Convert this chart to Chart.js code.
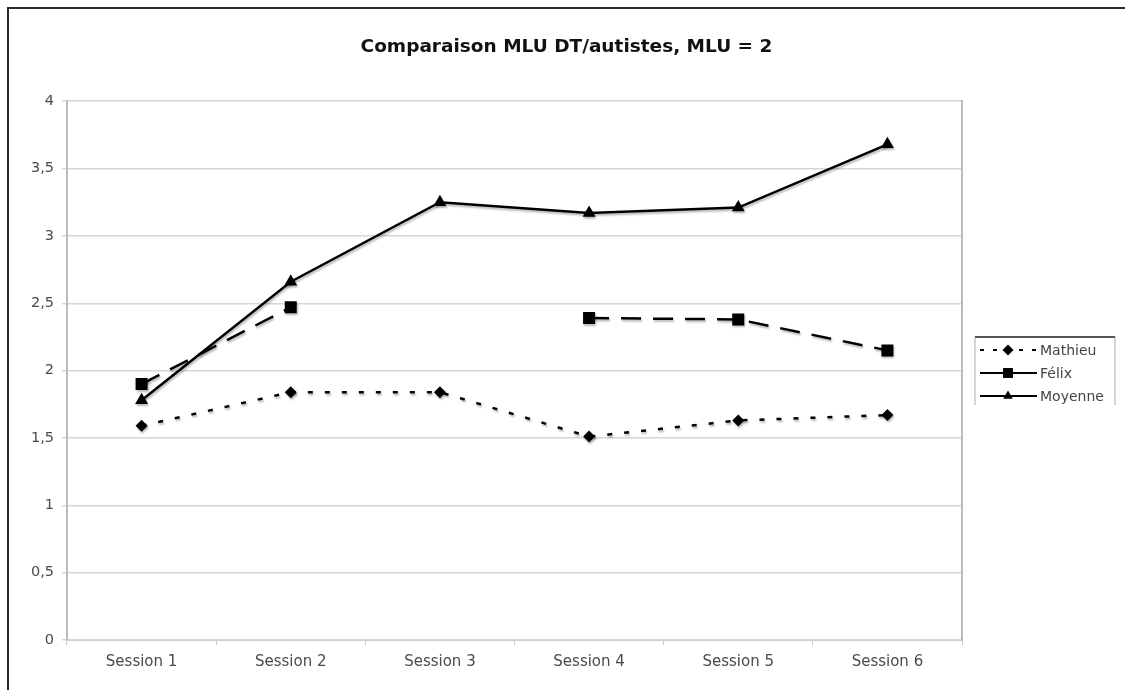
<!DOCTYPE html>
<html><head><meta charset="utf-8">
<script src="https://cdn.jsdelivr.net/npm/chart.js@4.4.1/dist/chart.umd.min.js"></script>
<style>html,body{margin:0;padding:0;background:#fff}#wrap{width:1125px;height:690px;position:relative}canvas{display:block}</style>
</head><body><div id="wrap"><canvas id="c" width="1125" height="690"></canvas></div>
<script>
const categories = ['Session 1','Session 2','Session 3','Session 4','Session 5','Session 6'];
const seriesNames = ['Mathieu','Félix','Moyenne'];
const mathieu = [1.59, 1.84, 1.84, 1.51, 1.63, 1.67];
const felix = [1.90, 2.47, null, 2.39, 2.38, 2.15];
const moyenne = [1.78, 2.66, 3.25, 3.17, 3.21, 3.68];
const yTickValues = [0, 0.5, 1, 1.5, 2, 2.5, 3, 3.5, 4];
const yTickLabels = ['0','0,5','1','1,5','2','2,5','3','3,5','4'];
const titleText = 'Comparaison MLU DT/autistes, MLU = 2';

const FONT = "'DejaVu Sans', Verdana, sans-serif";

const styles = [
  {dash:[5,12], point:'rectRot', r:6, legendDash:[4,9]},
  {dash:[20,12], point:'rect', r:8.5, legendDash:[]},
  {dash:[], point:'triangle', r:7.5, legendDash:[]}
];

function drawMarker(ctx, type, x, y, r) {
  ctx.beginPath();
  if (type === 'rectRot') {
    ctx.moveTo(x, y - r); ctx.lineTo(x + r, y); ctx.lineTo(x, y + r); ctx.lineTo(x - r, y);
  } else if (type === 'rect') {
    const s = r * Math.SQRT1_2;
    ctx.rect(x - s, y - s, 2 * s, 2 * s);
  } else {
    ctx.moveTo(x, y - r);
    ctx.lineTo(x + r * 0.866, y + r * 0.5);
    ctx.lineTo(x - r * 0.866, y + r * 0.5);
  }
  ctx.closePath();
  ctx.fill();
}

const framePlugin = {
  id: 'frame',
  beforeDraw(chart) {
    const ctx = chart.ctx;
    ctx.save();
    ctx.fillStyle = '#fff';
    ctx.fillRect(0, 0, chart.width, chart.height);
    ctx.strokeStyle = '#2a2a2a';
    ctx.lineWidth = 2;
    ctx.beginPath();
    ctx.moveTo(8, 690); ctx.lineTo(8, 8); ctx.lineTo(1125, 8);
    ctx.stroke();
    ctx.restore();
  }
};

const shadowPlugin = {
  id: 'shadow',
  beforeDatasetsDraw(chart) {
    const ctx = chart.ctx;
    ctx.save();
    ctx.shadowColor = 'rgba(0,0,0,0.28)';
    ctx.shadowOffsetX = 1;
    ctx.shadowOffsetY = 2;
    ctx.shadowBlur = 2;
  },
  afterDatasetsDraw(chart) {
    chart.ctx.restore();
  }
};

const legendPlugin = {
  id: 'customLegend',
  afterDraw(chart) {
    const ctx = chart.ctx;
    const bx = 975, by = 337, bw = 140, bh = 68;
    ctx.save();
    ctx.strokeStyle = '#c8c8c8';
    ctx.lineWidth = 1.5;
    ctx.beginPath();
    ctx.moveTo(bx, by); ctx.lineTo(bx, by + bh);
    ctx.moveTo(bx + bw, by); ctx.lineTo(bx + bw, by + bh);
    ctx.stroke();
    ctx.strokeStyle = '#555';
    ctx.lineWidth = 2;
    ctx.beginPath();
    ctx.moveTo(bx, by); ctx.lineTo(bx + bw, by);
    ctx.stroke();
    chart.data.datasets.forEach((ds, i) => {
      const y = 350 + i * 23;
      const st = styles[i];
      ctx.strokeStyle = '#000';
      ctx.fillStyle = '#000';
      ctx.lineWidth = 2.2;
      ctx.setLineDash(st.legendDash);
      ctx.beginPath();
      ctx.moveTo(980, y); ctx.lineTo(1037, y);
      ctx.stroke();
      ctx.setLineDash([]);
      drawMarker(ctx, st.point, 1008, y, st.point === 'rect' ? 7 : 5.5);
      ctx.fillStyle = '#444';
      ctx.font = '14px ' + FONT;
      ctx.textBaseline = 'middle';
      ctx.textAlign = 'left';
      ctx.fillText(ds.label, 1040, y + 1);
    });
    ctx.restore();
  }
};

const seriesData = [mathieu, felix, moyenne];
const datasets = seriesNames.map((name, i) => ({
  label: name,
  data: seriesData[i],
  borderColor: '#000',
  backgroundColor: '#000',
  borderWidth: 2.5,
  borderDash: styles[i].dash,
  pointStyle: styles[i].point,
  pointRadius: styles[i].r,
  pointHoverRadius: styles[i].r,
  pointBorderWidth: 0,
  pointBackgroundColor: '#000',
  tension: 0,
  spanGaps: false,
  yAxisID: 'y'
}));

new Chart(document.getElementById('c'), {
  type: 'line',
  data: { labels: categories, datasets },
  plugins: [framePlugin, shadowPlugin, legendPlugin],
  options: {
    responsive: false,
    animation: false,
    devicePixelRatio: 1,
    layout: { padding: { left: 8, right: 0, top: 0, bottom: 0 } },
    plugins: {
      legend: { display: false },
      tooltip: { enabled: false },
      title: {
        display: true,
        text: titleText,
        color: '#111',
        font: { family: FONT, size: 18.5, weight: 'bold' },
        padding: { top: 36, bottom: 43 }
      }
    },
    scales: {
      x: {
        type: 'category',
        offset: true,
        grid: { drawOnChartArea: false, drawTicks: true, tickLength: 5, color: '#c8c8c8', offset: true },
        border: { display: true, color: '#d0d0d0', width: 1 },
        ticks: { color: '#4a4a4a', font: { family: FONT, size: 15 }, padding: 8, maxRotation: 0 },
        afterFit(s) { s.height = 50; }
      },
      y: {
        min: 0, max: 4,
        afterBuildTicks(s) { s.ticks = yTickValues.map(v => ({ value: v })); },
        ticks: {
          color: '#4a4a4a',
          font: { family: FONT, size: 14.5 },
          padding: 8,
          callback: (v) => yTickLabels[yTickValues.indexOf(v)]
        },
        grid: { color: '#d6d6d6', lineWidth: 1.5, tickLength: 5, drawTicks: true },
        border: { display: true, color: '#bcbcbc', width: 2 },
        afterFit(s) { s.width = 59; }
      },
      y2: {
        position: 'right',
        min: 0, max: 4,
        grid: { display: false },
        ticks: { display: false },
        border: { display: true, color: '#bcbcbc', width: 2 },
        afterFit(s) { s.width = 163; }
      }
    }
  }
});
</script>
</body></html>
